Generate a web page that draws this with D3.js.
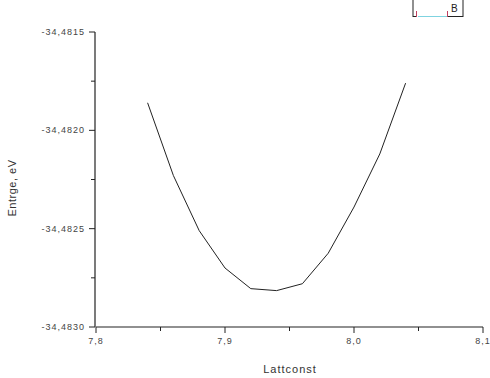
<!DOCTYPE html>
<html><head><meta charset="utf-8">
<script src="https://d3js.org/d3.v7.min.js"></script>
<style>body{margin:0;background:#fff}svg{display:block}</style>
</head><body>
<svg id="c" width="490" height="378"></svg>
<script>
const lattconst = [7.84, 7.86, 7.88, 7.90, 7.92, 7.94, 7.96, 7.98, 8.00, 8.02, 8.04];
const energy = [-34.48186, -34.48223, -34.48251, -34.48270, -34.482805, -34.482815, -34.48278, -34.482625, -34.48239, -34.48212, -34.48176];
const xTicks = [7.8, 7.9, 8.0, 8.1];
const xTickLabels = ["7,8", "7,9", "8,0", "8,1"];
const yTicks = [-34.4830, -34.4825, -34.4820, -34.4815];
const yTickLabels = ["-34,4830", "-34,4825", "-34,4820", "-34,4815"];
const xTitle = "Lattconst";
const yTitle = "Entrge, eV";
const legendLabel = "B";

const svg = d3.select("#c");
const x = d3.scaleLinear().domain([7.8, 8.1]).range([96, 483]);
const y = d3.scaleLinear().domain([-34.4830, -34.4815]).range([327, 32]);
const font = "Arial, 'Liberation Sans', sans-serif";

// X axis
const gx = svg.append("g").attr("transform", "translate(0,327)");
gx.append("line").attr("x1", x.range()[0]).attr("x2", x.range()[1]).attr("stroke", "#222").attr("stroke-width", 1.2);
const xMinor = d3.range(7.85, 8.1, 0.1);
gx.selectAll(".xm").data(xMinor).join("line").attr("x1", d => x(d)).attr("x2", d => x(d)).attr("y1", 0).attr("y2", 4).attr("stroke", "#222");
gx.selectAll(".xM").data(xTicks).join("line").attr("x1", d => x(d)).attr("x2", d => x(d)).attr("y1", 0).attr("y2", 6).attr("stroke", "#222");
gx.selectAll(".xl").data(xTicks).join("text").attr("x", d => x(d)).attr("y", 17)
  .attr("text-anchor", "middle").attr("font-family", font).attr("font-size", 9).attr("letter-spacing", 1)
  .attr("fill", "#444").text((d, i) => xTickLabels[i]);

// Y axis
const gy = svg.append("g").attr("transform", "translate(95,0)");
gy.append("line").attr("y1", y.range()[0]).attr("y2", y.range()[1]).attr("stroke", "#222").attr("stroke-width", 1.2);
const yMinor = [-34.48275, -34.48225, -34.48175];
gy.selectAll(".ym").data(yMinor).join("line").attr("y1", d => y(d)).attr("y2", d => y(d)).attr("x1", 0).attr("x2", -4).attr("stroke", "#222");
gy.selectAll(".yM").data(yTicks).join("line").attr("y1", d => y(d)).attr("y2", d => y(d)).attr("x1", 0).attr("x2", -6).attr("stroke", "#222");
gy.selectAll(".yl").data(yTicks).join("text").attr("x", -10).attr("y", d => y(d) + 3)
  .attr("text-anchor", "end").attr("font-family", font).attr("font-size", 9).attr("letter-spacing", 1)
  .attr("fill", "#444").text((d, i) => yTickLabels[i]);

// Titles
svg.append("text").attr("x", 290).attr("y", 373).attr("text-anchor", "middle")
  .attr("font-family", font).attr("font-size", 11).attr("letter-spacing", 1).attr("fill", "#333").text(xTitle);
svg.append("text").attr("transform", "translate(16,188) rotate(-90)").attr("text-anchor", "middle")
  .attr("font-family", font).attr("font-size", 11).attr("letter-spacing", 0.5).attr("fill", "#333").text(yTitle);

// Line
const line = d3.line().x((d, i) => x(lattconst[i])).y(d => y(d));
svg.append("path").datum(energy).attr("d", line).attr("fill", "none").attr("stroke", "#222").attr("stroke-width", 1);

// Legend (clipped at top)
const lg = svg.append("g");
lg.append("rect").attr("x", 413).attr("y", -10).attr("width", 50).attr("height", 26.5).attr("fill", "none").attr("stroke", "#222");
lg.append("rect").attr("x", 414).attr("y", 0).attr("width", 33).attr("height", 17).attr("fill", "#fff");
lg.append("line").attr("x1", 418).attr("x2", 447).attr("y1", 16.5).attr("y2", 16.5).attr("stroke", "#7fd3e0").attr("stroke-width", 1);
lg.append("line").attr("x1", 416.5).attr("x2", 416.5).attr("y1", 11).attr("y2", 17).attr("stroke", "#c04060");
lg.append("line").attr("x1", 447.5).attr("x2", 447.5).attr("y1", 11).attr("y2", 17).attr("stroke", "#c04060");
lg.append("line").attr("x1", 413).attr("x2", 416).attr("y1", 16.5).attr("y2", 16.5).attr("stroke", "#222");
lg.append("text").attr("x", 451).attr("y", 12).attr("font-family", font).attr("font-size", 10).attr("fill", "#222").text(legendLabel);
</script>
</body></html>
